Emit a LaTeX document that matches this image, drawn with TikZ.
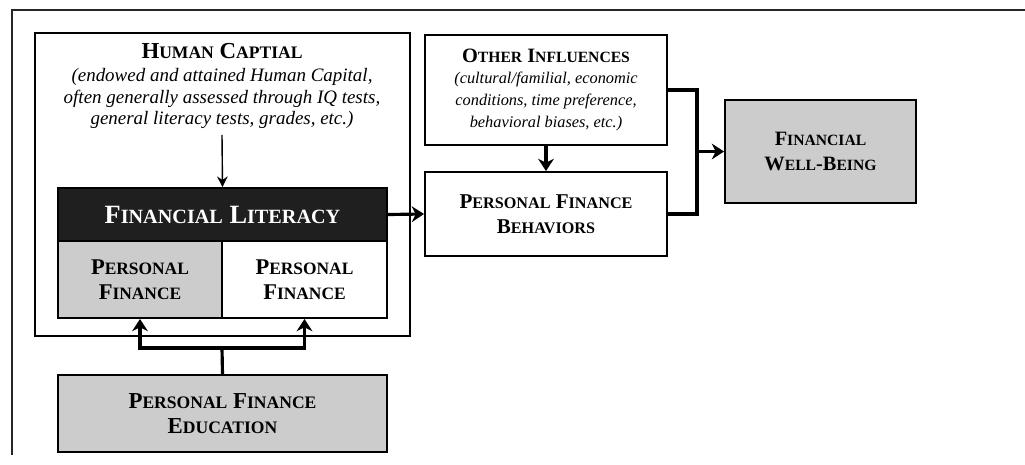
\documentclass[tikz,border=0pt]{standalone}
\usepackage{fontspec}
\setmainfont{Liberation Serif}
\usetikzlibrary{arrows.meta}

% fake small caps: first letter, then the rest in \smfont
\newcommand\smc[2]{#1{\smfont #2}}
% \capsize{big}{small}{baselineskip}
\newcommand\capsize[3]{\bfseries\fontsize{#1}{#3}\selectfont
  \def\smfont{\fontsize{#2}{#3}\selectfont}}

\begin{document}
\begin{tikzpicture}[x=0.02cm, y=-0.02cm,
  box/.style = {draw, line width=1.1pt, align=center, inner sep=2pt},
  greybox/.style = {box, fill=black!20},
  conn/.style = {line width=1.8pt},
  arr/.style = {conn, -{Stealth[length=7pt,width=9pt]}}]
  \useasboundingbox (0,0) rectangle (1025,464);
  \draw[line width=1.4pt, black!85] (12,455) -- (12,10) -- (1025,10);

  % human capital block
  \node[box, minimum width=7.5cm, minimum height=6.06cm] (hc) at (222.5,184.5) {};
  \node[align=center, font=\itshape\fontsize{10.8}{12.2}\selectfont] (hctext) at (222,86)
    {{\capsize{13}{10}{12.2}\normalfont\bfseries\smc{H}{UMAN} \smc{C}{APTIAL}}\\[1pt]
     (endowed and attained Human Capital,\\
     often generally assessed through IQ tests,\\
     general literacy tests, grades, etc.)};
  \node[box, fill=black!88, text=white, minimum width=6.58cm, minimum height=1.06cm,
    font=\capsize{15}{11.5}{17}] (fl) at (222.5,214.5)
    {\smc{F}{INANCIAL} \smc{L}{ITERACY}};
  \node[greybox, minimum width=3.28cm, minimum height=1.54cm,
    font=\capsize{12.8}{9.9}{14.2}] (pfl) at (140,279.5)
    {\smc{P}{ERSONAL}\\\smc{F}{INANCE}};
  \node[box, minimum width=3.3cm, minimum height=1.54cm,
    font=\capsize{12.8}{9.9}{14.2}] (pfr) at (304.5,279.5)
    {\smc{P}{ERSONAL}\\\smc{F}{INANCE}};

  \node[greybox, minimum width=6.58cm, minimum height=1.54cm,
    font=\capsize{13}{10}{14.2}] (edu) at (222.5,413.5)
    {\smc{P}{ERSONAL} \smc{F}{INANCE}\\\smc{E}{DUCATION}};

  % right side
  \node[box, minimum width=4.84cm, minimum height=2.2cm,
    font=\capsize{11.6}{8.9}{12.6}] (oi) at (546,90)
    {\smc{O}{THER} \smc{I}{NFLUENCES}\\[-1pt]
     {\normalfont\itshape\fontsize{9.3}{12.6}\selectfont (cultural/familial, economic}\\
     {\normalfont\itshape\fontsize{9.3}{12.6}\selectfont conditions, time preference,}\\
     {\normalfont\itshape\fontsize{9.3}{12.6}\selectfont behavioral biases, etc.)}};
  \node[box, minimum width=4.84cm, minimum height=1.68cm,
    font=\capsize{12}{9.2}{14}] (pfb) at (546,214)
    {\smc{P}{ERSONAL} \smc{F}{INANCE}\\\smc{B}{EHAVIORS}};
  \node[greybox, minimum width=3.82cm, minimum height=2.06cm,
    font=\capsize{11.6}{8.9}{14}] (fwb) at (820.5,151.5)
    {\smc{F}{INANCIAL}\\\smc{W}{ELL}-\smc{B}{EING}};

  \coordinate (jn) at (697,151.5);
  \coordinate (split) at (222,348);

  \draw[line width=0.8pt, -{Stealth[length=6pt,width=6pt]}] (hctext.south) -- (fl.north);
  \draw[arr] (fl.east) -- (pfb.west);
  \draw[arr] (oi.south) -- (pfb.north);
  \draw[conn] (oi.east) -- (oi.east -| jn) -- (pfb.east -| jn) -- (pfb.east);
  \draw[arr] (jn) -- (fwb.west);
  \draw[conn] (edu.north) -- (split);
  \draw[arr] (split) -| (pfl.south);
  \draw[arr] (split) -| (pfr.south);
\end{tikzpicture}
\end{document}
